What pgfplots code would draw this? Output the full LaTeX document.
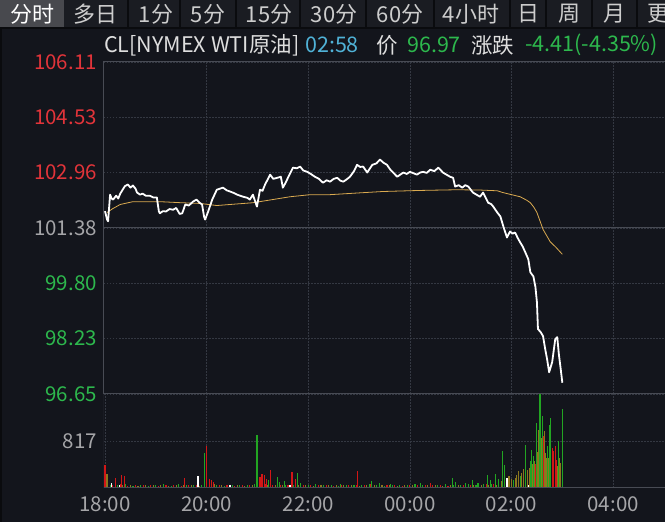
\documentclass[border=0pt]{standalone}
\usepackage{fontspec}
\setmainfont{Noto Sans CJK SC}
\usepackage{pgfplots}
\pgfplotsset{compat=1.18}
\definecolor{bg}{RGB}{19,21,28}
\definecolor{tabbg}{RGB}{26,28,34}
\definecolor{tabsel}{RGB}{72,73,78}
\definecolor{tabsep}{RGB}{10,11,14}
\definecolor{tabtxt}{RGB}{205,205,205}
\definecolor{ttxt}{RGB}{222,222,222}
\definecolor{tred}{RGB}{226,52,58}
\definecolor{tgreen}{RGB}{45,184,77}
\definecolor{tgray}{RGB}{165,165,168}
\definecolor{tcyan}{RGB}{80,178,215}
\definecolor{gridc}{RGB}{52,56,66}
\definecolor{borderc}{RGB}{72,75,84}
\definecolor{avgc}{RGB}{218,170,80}
\definecolor{vred}{RGB}{210,22,22}
\definecolor{vgreen}{RGB}{34,165,34}
\definecolor{volive}{RGB}{140,120,30}
\begin{document}
\begin{tikzpicture}[x=1pt,y=1pt]
\fill[bg] (0,0) rectangle (665,522);
% tab bar
\fill[tabbg] (0,494) rectangle (665,522);
\fill[tabsel] (0,494) rectangle (64,522);
\foreach \s in {128,180,236,300,366,434,510,546,592,637}
  \draw[tabsep, line width=1.5] (\s,494) -- (\s,522);
\draw[tabsep, line width=1.5] (0,494) -- (665,494);
\draw[tabsep, line width=1.5] (1,0) -- (1,494);
\begin{scope}[every node/.style={font=\fontsize{22}{26}\selectfont, text=tabtxt, inner sep=0pt}]
\node[text=white] at (32,508) {分时};
\node at (96,508) {多日};
\node at (156,508) {1分};
\node at (208,508) {5分};
\node at (269,508) {15分};
\node at (334,508) {30分};
\node at (400,508) {60分};
\node at (471,508) {4小时};
\node at (528,508) {日};
\node at (569,508) {周};
\node at (614,508) {月};
\node[anchor=west] at (647,508) {更};
\end{scope}
% title row
\begin{scope}[every node/.style={font=\fontsize{21.5}{25}\selectfont, inner sep=0pt, anchor=west}]
\node[text=ttxt] at (104,477) {CL[NYMEX WTI原油]};
\node[text=tcyan] at (305,477) {02:58};
\node[text=ttxt] at (376,477) {价};
\node[text=tgreen] at (407,477) {96.97};
\node[text=ttxt] at (471,477) {涨跌};
\node[text=tgreen] at (525,477) {-4.41(-4.35\%)};
\end{scope}

% price panel
\begin{axis}[
  at={(104pt,128pt)}, anchor=south west, scale only axis,
  width=561pt, height=332pt,
  xmin=-0.02, xmax=11.02, ymin=96.65, ymax=106.11,
  axis line style={draw=none},
  major tick length=0pt, tick style={draw=none},
  xtick={2,4,6,8,10}, xticklabels={},
  ytick={96.65,98.23,99.80,101.38,102.96,104.53,106.11},
  yticklabels={\textcolor{tgreen}{96.65},\textcolor{tgreen}{98.23},\textcolor{tgreen}{99.80},\textcolor{tgray}{101.38},\textcolor{tred}{102.96},\textcolor{tred}{104.53},\textcolor{tred}{106.11}},
  yticklabel style={font=\fontsize{20.5}{24}\selectfont, inner sep=0pt, xshift=-7pt},
  xmajorgrids, ymajorgrids,
  major grid style={gridc, dash pattern=on 1.5pt off 1.5pt, line width=0.8pt},
  /pgf/number format/assume math mode=true,
  clip=false,
]
\draw[borderc, line width=1pt] (axis cs:-0.02,101.38) -- (axis cs:11.02,101.38);
\draw[borderc, line width=1pt] (rel axis cs:0,0) -- (rel axis cs:0,1) -- (rel axis cs:1,1);
% average price line
\addplot[avgc, line width=0.8pt, no marks] coordinates {
(0.04,101.82) (0.15,101.93) (0.30,102.05) (0.55,102.13) (1.08,102.13) (1.50,102.10)
(1.87,102.08) (2.20,102.02) (2.55,102.06) (2.91,102.10) (3.30,102.19) (3.64,102.27)
(4.04,102.33) (4.43,102.33) (5.00,102.38) (5.47,102.42) (6.20,102.45) (6.93,102.47)
(7.40,102.46) (7.72,102.44) (7.83,102.39) (8.00,102.33) (8.17,102.27) (8.30,102.17)
(8.37,102.10) (8.44,101.97) (8.50,101.82) (8.56,101.58) (8.62,101.34) (8.70,101.14)
(8.76,100.99) (8.88,100.82) (9.00,100.63)
};
% last price line
\addplot[white, line width=1.8pt, no marks, line join=round] coordinates {
(0.00,101.86) (0.04,101.62) (0.06,101.57) (0.10,102.33) (0.13,102.22) (0.16,102.19)
(0.22,102.30) (0.26,102.22) (0.30,102.36) (0.39,102.57) (0.45,102.62) (0.50,102.53)
(0.55,102.59) (0.60,102.50) (0.63,102.39) (0.69,102.33) (0.74,102.36) (0.80,102.30)
(0.88,102.30) (0.95,102.25) (1.02,102.25) (1.06,101.85) (1.08,101.80) (1.14,101.86)
(1.20,101.85) (1.27,101.92) (1.34,101.90) (1.40,101.95) (1.47,101.78) (1.52,101.80)
(1.58,102.05) (1.65,102.02) (1.73,102.13) (1.80,102.19) (1.86,102.10) (1.91,102.05)
(1.95,101.70) (1.97,101.62) (2.03,101.85) (2.11,102.19) (2.20,102.47) (2.32,102.53)
(2.40,102.45) (2.46,102.42) (2.53,102.38) (2.60,102.33) (2.66,102.30) (2.72,102.27)
(2.80,102.24) (2.85,102.19) (2.91,102.33) (2.99,101.99) (3.05,102.47) (3.10,102.44)
(3.15,102.62) (3.25,102.90) (3.31,102.78) (3.39,102.81) (3.46,102.84) (3.50,102.53)
(3.55,102.66) (3.60,102.81) (3.70,103.10) (3.77,103.08) (3.84,103.13) (3.90,103.02)
(3.98,102.98) (4.05,102.92) (4.13,102.84) (4.21,102.78) (4.29,102.67) (4.36,102.74)
(4.43,102.70) (4.50,102.78) (4.57,102.81) (4.63,102.73) (4.69,102.70) (4.76,102.77)
(4.82,102.84) (4.90,103.00) (4.96,103.18) (5.02,103.12) (5.08,103.13) (5.16,102.96)
(5.26,103.18) (5.34,103.22) (5.41,103.33) (5.48,103.24) (5.55,103.18) (5.61,103.05)
(5.67,102.96) (5.75,102.84) (5.81,102.90) (5.87,102.96) (5.94,102.92) (6.00,102.98)
(6.07,102.94) (6.14,102.90) (6.20,102.96) (6.26,102.98) (6.33,102.95) (6.40,103.04)
(6.48,103.00) (6.56,103.10) (6.65,102.96) (6.72,102.90) (6.79,102.84) (6.85,102.81)
(6.89,102.56) (6.96,102.60) (7.03,102.53) (7.09,102.60) (7.15,102.56) (7.24,102.39)
(7.31,102.33) (7.38,102.27) (7.44,102.39) (7.54,102.10) (7.60,102.06) (7.64,101.99)
(7.72,101.82) (7.78,101.71) (7.84,101.42) (7.91,101.11) (7.97,101.28) (8.02,101.22)
(8.07,101.25) (8.12,101.10) (8.17,100.97) (8.22,100.85) (8.27,100.69) (8.33,100.49)
(8.37,100.12) (8.43,100.00) (8.47,99.70) (8.50,99.26) (8.52,98.50) (8.57,98.42)
(8.62,98.30) (8.66,97.95) (8.70,97.64) (8.74,97.27) (8.80,97.56) (8.86,98.21)
(8.90,98.27) (8.93,97.80) (8.96,97.45) (9.00,96.97)
};
\end{axis}

% volume panel
\begin{axis}[
  at={(104pt,34pt)}, anchor=south west, scale only axis,
  width=561pt, height=94pt,
  xmin=-0.02, xmax=11.02, ymin=0, ymax=1634,
  axis line style={draw=none},
  major tick length=0pt, tick style={draw=none},
  xtick={0,2,4,6,8,10},
  xticklabels={18:00,20:00,22:00,00:00,02:00,04:00},
  xticklabel style={font=\fontsize{20.5}{24}\selectfont, text=tgray, inner sep=0pt, yshift=-8pt},
  ytick={817}, yticklabels={\textcolor{tgray}{817}},
  yticklabel style={font=\fontsize{20.5}{24}\selectfont, inner sep=0pt, xshift=-7pt},
  xmajorgrids, ymajorgrids,
  major grid style={gridc, dash pattern=on 1.5pt off 1.5pt, line width=0.8pt},
  /pgf/number format/assume math mode=true,
]
% base volume
\addplot[ycomb, vgreen, line width=1.1pt, no marks] coordinates {
(0.10,60) (0.25,45) (0.40,70) (0.55,40) (0.70,55) (0.85,35) (1.00,50) (1.15,65) (1.30,40)
(1.45,75) (1.60,45) (1.75,55) (1.90,60) (2.05,90) (2.20,50) (2.35,40) (2.50,60) (2.65,45)
(2.80,55) (2.95,70) (3.10,50) (3.25,85) (3.40,60) (3.55,45) (3.70,55) (3.85,40) (4.00,50)
(4.15,65) (4.30,45) (4.45,55) (4.60,40) (4.75,60) (4.90,50) (5.05,45) (5.20,70) (5.35,55)
(5.50,40) (5.65,60) (5.80,45) (5.95,50) (6.10,65) (6.25,55) (6.40,45) (6.55,60) (6.70,70)
(6.85,50) (7.00,55) (7.15,65) (7.30,60) (7.45,75) (7.60,70)
};
\addplot[ycomb, vred, line width=1.1pt, no marks] coordinates {
(0.15,50) (0.30,70) (0.45,40) (0.60,55) (0.75,45) (0.90,60) (1.05,35) (1.20,50) (1.35,45)
(1.50,40) (1.65,55) (1.80,60) (1.95,50) (2.10,80) (2.25,45) (2.40,55) (2.55,40) (2.70,60)
(2.85,50) (3.00,45) (3.15,70) (3.30,55) (3.45,45) (3.60,50) (3.75,40) (3.90,55) (4.05,60)
(4.20,45) (4.35,50) (4.50,40) (4.65,55) (4.80,45) (4.95,50) (5.10,60) (5.25,40) (5.40,45)
(5.55,55) (5.70,50) (5.85,40) (6.00,45) (6.15,50) (6.30,60) (6.45,45) (6.60,55) (6.75,40)
(6.90,50) (7.05,60) (7.20,45) (7.35,55) (7.50,70) (7.65,65)
};
\addplot[ycomb, volive, line width=1.1pt, no marks] coordinates {
(0.20,45) (0.35,55) (0.50,50) (0.65,40) (0.80,60) (0.95,45) (1.10,50) (1.25,40) (1.40,55)
(1.55,45) (1.70,50) (1.85,40) (2.00,60) (2.15,70) (2.30,55) (2.45,45) (2.60,50) (2.75,40)
(2.90,55) (3.05,60) (3.20,45) (3.35,50) (3.50,55) (3.65,40) (3.80,45) (3.95,50) (4.10,40)
(4.25,55) (4.40,45) (4.55,50) (4.70,60) (4.85,45) (5.00,40) (5.15,50) (5.30,55) (5.45,45)
(5.60,50) (5.75,40) (5.90,55) (6.05,60) (6.20,45) (6.35,50) (6.50,55) (6.65,40) (6.80,45)
(6.95,60) (7.10,50) (7.25,55) (7.40,45) (7.55,60) (7.70,55)
};
% larger bars
\addplot[ycomb, volive, line width=1.1pt, no marks] coordinates {
(0.04,245) (7.80,120) (7.95,210) (8.00,160) (8.07,180) (8.10,230) (8.13,295) (8.20,260)
(8.23,330) (8.31,310) (8.35,350) (8.41,420) (8.43,380) (8.46,470) (8.52,620) (8.54,1010)
(8.59,870) (8.64,990) (8.66,600) (8.68,520) (8.72,520) (8.76,640) (8.91,380) (8.95,520) (8.97,430)
};
\addplot[ycomb, vred, line width=1.1pt, no marks] coordinates {
(0.00,400) (0.20,175) (0.33,225) (0.39,210) (1.57,175) (1.99,730) (2.05,155) (2.09,140)
(2.13,105) (3.05,190) (3.09,245) (3.13,225) (3.17,155) (3.25,310) (3.68,280) (3.74,160)
(4.96,295) (5.22,75) (6.40,90) (8.48,420) (8.62,900) (8.80,695) (8.83,645) (8.86,730) (8.89,490)
};
\addplot[ycomb, vgreen, line width=1.1pt, no marks] coordinates {
(1.95,610) (2.99,920) (3.21,140) (3.39,190) (3.44,105) (3.54,120) (3.79,260) (3.84,90)
(4.63,70) (5.24,120) (5.41,90) (5.61,70) (6.20,90) (6.83,175) (6.89,105) (7.09,90)
(7.24,140) (7.34,90) (7.52,225) (7.58,140) (7.68,245) (7.74,160) (7.83,645) (7.87,400)
(8.03,140) (8.17,210) (8.27,750) (8.37,470) (8.39,660) (8.44,560) (8.50,1130) (8.56,1630)
(8.61,1250) (8.70,730) (8.74,1100) (8.77,1220) (8.93,820) (9.00,1375)
};
\addplot[ycomb, white, line width=1.1pt, no marks] coordinates {
(0.12,85) (0.28,55) (1.83,210) (2.46,55) (3.64,55) (7.91,175) (8.33,55)
};
\draw[borderc, line width=1pt] (rel axis cs:0,1) -- (rel axis cs:1,1);
\draw[borderc, line width=1pt] (rel axis cs:0,0) -- (rel axis cs:1,0);
\draw[borderc, line width=1pt] (rel axis cs:0,0) -- (rel axis cs:0,1);
\end{axis}
\pgfresetboundingbox
\path[use as bounding box] (0,0) rectangle (665,522);
\end{tikzpicture}
\end{document}
